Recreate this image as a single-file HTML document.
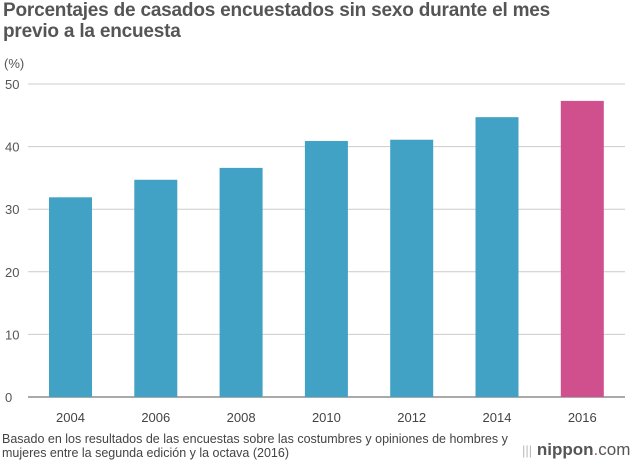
<!DOCTYPE html>
<html><head><meta charset="utf-8"><style>
body{margin:0;background:#fff;font-family:"Liberation Sans",sans-serif;}
#w{position:relative;width:640px;height:460px;overflow:hidden;}
h1{position:absolute;left:3px;top:0;margin:0;font-size:19px;line-height:21px;font-weight:bold;color:#555;width:635px;letter-spacing:-0.2px;white-space:nowrap}
.foot{position:absolute;left:2px;top:432px;font-size:12.5px;line-height:14px;color:#444;white-space:nowrap}
.logo{position:absolute;left:522px;top:440px;font-size:17px;color:#555}
</style></head><body>
<div id="w">
<h1>Porcentajes de casados encuestados sin sexo durante el mes<br>previo a la encuesta</h1>
<svg id="c" width="640" height="460" style="position:absolute;left:0;top:0"></svg>
<div class="foot">Basado en los resultados de las encuestas sobre las costumbres y opiniones de hombres y<br>mujeres entre la segunda edición y la octava (2016)</div>
<div class="logo"><span style="color:#bbb;font-size:13px">|||</span> <b>nippon</b><span style="color:#d04a8c">.</span>com</div>
</div>
<script>
const categories=["2004","2006","2008","2010","2012","2014","2016"];
const values=[31.9,34.7,36.6,40.9,41.1,44.7,47.3];
const yTicks=[0,10,20,30,40,50];
const NS="http://www.w3.org/2000/svg";
const svg=document.getElementById('c');
const y=v=>397-v*6.26;
const x=i=>70.5+i*85.3;
function mk(t,a){const e=document.createElementNS(NS,t);for(const k in a)e.setAttribute(k,a[k]);svg.appendChild(e);return e;}
const u=mk('text',{x:4,y:68,'font-size':13,fill:'#555','font-family':'Liberation Sans'});u.textContent='(%)';


yTicks.forEach(t=>{
 const l=mk('line',{x1:28,x2:625,y1:y(t),y2:y(t),stroke:t?'#ccc':'#555','stroke-width':1});
 
 
 const tx=mk('text',{x:5,y:y(t)+5,'font-size':13,fill:'#555','font-family':'Liberation Sans'});
 tx.textContent=t;
 
 
});
categories.forEach((c,i)=>{
 const v=values[i];
 const r=mk('rect',{x:x(i)-21.5,y:y(v),width:43,height:y(0)-y(v),fill:i==6?'#d0508e':'#41a2c5'});
 
 
 const tx=mk('text',{x:x(i),y:422,'font-size':13,fill:'#444','text-anchor':'middle','font-family':'Liberation Sans'});
 tx.textContent=c;
 
 
});
</script>
</body></html>
